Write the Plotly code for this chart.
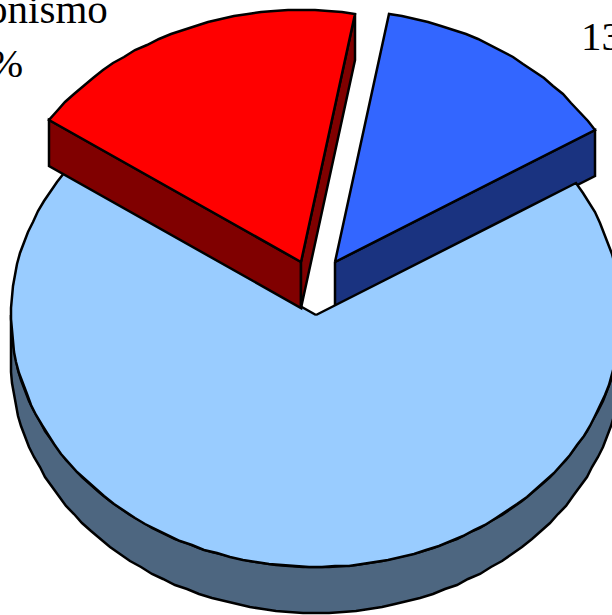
import math
import plotly.graph_objects as go

# Data (clockwise from the start angle)
slices = ["13%", "Resto", "Protagonismo 18%"]
values = [13.4, 68.3, 18.3]
top_colors = ["#3366FF", "#99CCFF", "#FF0000"]
side_colors = ["#1A3380", "#4D6680", "#800000"]
offsets_x = [19, 0, -15]
offsets_y = [-53, 0, -53]
draw_order = [0, 1, 2]

# Pie geometry in pixels (styling)
START = 10.2
CX, CY = 316, 315
RX, RY = 305, 252
DEPTH = 46
STEP = 2.5


def pt(cx, cy, deg, dy=0):
    a = math.radians(deg)
    return round(cx + RX * math.sin(a)), round(cy - RY * math.cos(a) + dy)


def arc(cx, cy, a0, a1, dy=0):
    n = max(1, int(round((a1 - a0) / STEP)))
    return [pt(cx, cy, a0 + (a1 - a0) * i / n, dy) for i in range(n + 1)]


def poly(points, fill):
    xs = [p[0] for p in points] + [points[0][0]]
    ys = [p[1] for p in points] + [points[0][1]]
    return go.Scatter(x=xs, y=ys, mode="lines", fill="toself", fillcolor=fill,
                      line=dict(color="black", width=2.5, shape="linear"),
                      hoverinfo="skip", showlegend=False)


fig = go.Figure()
total = sum(values)
angles = []
a = START
for v in values:
    b = a + v / total * 360
    angles.append((a, b))
    a = b

for i in draw_order:
    a0, a1 = angles[i]
    cx, cy = CX + offsets_x[i], CY + offsets_y[i]
    side = side_colors[i]
    # curved outer wall: the part of the rim facing the viewer
    w0, w1 = max(a0, 90), min(a1, 270)
    if w1 > w0:
        top = arc(cx, cy, w0, w1)
        bottom = arc(cx, cy, w0, w1, DEPTH)
        fig.add_trace(poly(top + bottom[::-1], side))
    # flat cut faces that face the viewer
    for ang in (a0, a1):
        ang_n = ang % 360
        visible = (i == 2) or (i == 0 and ang == a1)
        if visible:
            p = pt(cx, cy, ang_n)
            fig.add_trace(poly([(cx, cy), p, (p[0], p[1] + DEPTH), (cx, cy + DEPTH)], side))
    # top face
    fig.add_trace(poly([(cx, cy)] + arc(cx, cy, a0, a1), top_colors[i]))

FONT = dict(family="Liberation Serif", size=41, color="black")
fig.add_annotation(x=110, y=24, xref="x", yref="y", text="Protagonismo", showarrow=False,
                   xanchor="right", yanchor="bottom", yshift=-10, font=FONT)
fig.add_annotation(x=25, y=78, xref="x", yref="y", text="18%", showarrow=False,
                   xanchor="right", yanchor="bottom", yshift=-10, font=FONT)
fig.add_annotation(x=579, y=51, xref="x", yref="y", text="13%", showarrow=False,
                   xanchor="left", yanchor="bottom", yshift=-10, font=FONT)

fig.update_layout(
    width=612, height=615, margin=dict(l=0, r=0, t=0, b=0),
    paper_bgcolor="white", plot_bgcolor="white",
    xaxis=dict(range=[0, 612], visible=False, fixedrange=True),
    yaxis=dict(range=[615, 0], visible=False, fixedrange=True),
)
fig.write_html("out.html", config=dict(displayModeBar=False),
               post_script="document.body.style.margin='0';document.body.style.overflow='hidden';")
